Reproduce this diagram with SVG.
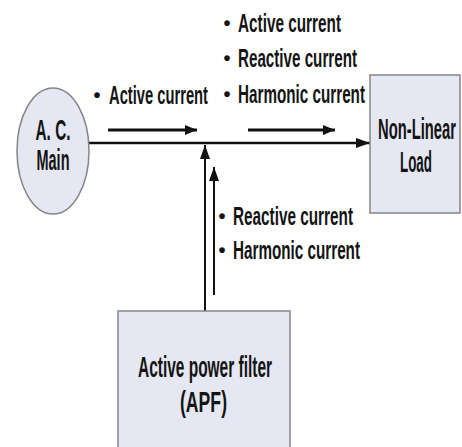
<svg xmlns="http://www.w3.org/2000/svg" width="462" height="447" viewBox="0 0 462 447">
<style>
  .t{font-family:"Liberation Sans",Arial,sans-serif;font-weight:bold;fill:#141414}
  .lbl{font-size:25px}
  .bul{font-size:20px}
  .big{font-size:30px}
  .node{fill:#e5e8f2;stroke:#858585;stroke-width:1.5}
  .ln{stroke:#111;fill:none}
</style>
<defs>
  <marker id="ah" viewBox="0 0 14 10" refX="14" refY="5" markerWidth="14" markerHeight="10" markerUnits="userSpaceOnUse" orient="auto">
    <path d="M0,0 L14,5 L0,10 Z" fill="#111"/>
  </marker>
  <marker id="ahs" viewBox="0 0 12 10" refX="12" refY="5" markerWidth="12" markerHeight="10" markerUnits="userSpaceOnUse" orient="auto">
    <path d="M0,0 L12,5 L0,10 Z" fill="#111"/>
  </marker>
</defs>
<rect width="462" height="447" fill="#ffffff"/>

<g id="connectors">
  <line class="ln" x1="89" y1="143" x2="370" y2="143" stroke-width="2.5" marker-end="url(#ah)"/>
  <line class="ln" x1="205" y1="311" x2="205" y2="145" stroke-width="2" marker-end="url(#ah)"/>
  <line class="ln" x1="214" y1="295" x2="214" y2="167" stroke-width="2" marker-end="url(#ah)"/>
  <line class="ln" x1="108" y1="130" x2="197" y2="130" stroke-width="3" marker-end="url(#ahs)"/>
  <line class="ln" x1="248" y1="130" x2="335" y2="130" stroke-width="3" marker-end="url(#ahs)"/>
</g>

<g id="ac-main">
  <ellipse class="node" cx="53" cy="151" rx="36" ry="63"/>
  <text class="t big" x="53" y="140" text-anchor="middle" textLength="35" lengthAdjust="spacingAndGlyphs">A. C.</text>
  <text class="t big" x="53" y="170" text-anchor="middle" textLength="33" lengthAdjust="spacingAndGlyphs">Main</text>
</g>

<g id="non-linear-load">
  <rect class="node" x="370" y="75" width="90" height="138"/>
  <text class="t big" x="378" y="139" textLength="78" lengthAdjust="spacingAndGlyphs">Non-Linear</text>
  <text class="t big" x="400" y="172" textLength="32" lengthAdjust="spacingAndGlyphs">Load</text>
</g>

<g id="apf">
  <rect class="node" x="118" y="311" width="172" height="145"/>
  <text class="t big" x="138" y="377" textLength="134" lengthAdjust="spacingAndGlyphs">Active power filter</text>
  <text class="t big" x="180" y="412" textLength="47" lengthAdjust="spacingAndGlyphs">(APF)</text>
</g>

<g id="labels">
  <text class="t bul" x="97" y="102" text-anchor="middle">•</text>
  <text class="t lbl" x="109" y="104" textLength="99" lengthAdjust="spacingAndGlyphs">Active current</text>

  <text class="t bul" x="227" y="30" text-anchor="middle">•</text>
  <text class="t lbl" x="238" y="32" textLength="103" lengthAdjust="spacingAndGlyphs">Active current</text>
  <text class="t bul" x="227" y="65" text-anchor="middle">•</text>
  <text class="t lbl" x="238" y="67" textLength="119" lengthAdjust="spacingAndGlyphs">Reactive current</text>
  <text class="t bul" x="227" y="101" text-anchor="middle">•</text>
  <text class="t lbl" x="238" y="103" textLength="127" lengthAdjust="spacingAndGlyphs">Harmonic current</text>

  <text class="t bul" x="222" y="223" text-anchor="middle">•</text>
  <text class="t lbl" x="233" y="225" textLength="120" lengthAdjust="spacingAndGlyphs">Reactive current</text>
  <text class="t bul" x="222" y="257" text-anchor="middle">•</text>
  <text class="t lbl" x="233" y="259" textLength="127" lengthAdjust="spacingAndGlyphs">Harmonic current</text>
</g>
</svg>
